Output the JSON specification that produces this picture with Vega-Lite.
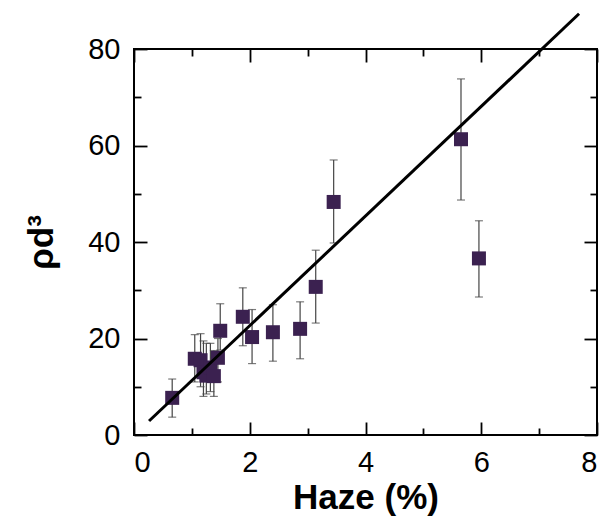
{
  "$schema": "https://vega.github.io/schema/vega-lite/v6.json",
  "width": 463,
  "height": 386,
  "autosize": "none",
  "padding": {"left": 134, "top": 49, "right": 9, "bottom": 89},
  "background": "white",
  "config": {
    "view": {"stroke": "black", "strokeWidth": 2},
    "axis": {"grid": false, "domain": false, "tickColor": "black", "tickWidth": 1.8, "labelFont": "Liberation Sans", "labelFontSize": 29, "labelColor": "black", "titleFont": "Liberation Sans", "titleFontSize": 35, "titleFontWeight": "bold", "titleColor": "black"}
  },
  "datasets": {
    "pts": [
      {"haze": 0.66, "rho": 7.7, "lo": 3.7, "hi": 11.6},
      {"haze": 1.05, "rho": 15.8, "lo": 11.0, "hi": 20.8},
      {"haze": 1.15, "rho": 15.5, "lo": 10.0, "hi": 21.0},
      {"haze": 1.2, "rho": 13.0, "lo": 8.0, "hi": 19.5},
      {"haze": 1.25, "rho": 12.3, "lo": 8.5, "hi": 19.0},
      {"haze": 1.32, "rho": 14.0, "lo": 9.0, "hi": 19.0},
      {"haze": 1.38, "rho": 12.2, "lo": 8.0, "hi": 17.5},
      {"haze": 1.45, "rho": 16.0, "lo": 11.0, "hi": 20.0},
      {"haze": 1.49, "rho": 21.6, "lo": 17.6, "hi": 27.2},
      {"haze": 1.88, "rho": 24.5, "lo": 18.5, "hi": 30.5},
      {"haze": 2.04, "rho": 20.3, "lo": 14.8, "hi": 26.0},
      {"haze": 2.4, "rho": 21.3, "lo": 15.3, "hi": 27.0},
      {"haze": 2.87, "rho": 22.0, "lo": 15.8, "hi": 27.6},
      {"haze": 3.14, "rho": 30.7, "lo": 23.2, "hi": 38.3},
      {"haze": 3.45, "rho": 48.3, "lo": 39.8, "hi": 57.0},
      {"haze": 5.65, "rho": 61.3, "lo": 48.7, "hi": 73.8},
      {"haze": 5.96, "rho": 36.6, "lo": 28.6, "hi": 44.4}
    ],
    "fit": [
      {"haze": 0.26, "rho": 2.9},
      {"haze": 7.69, "rho": 87.3}
    ]
  },
  "layer": [
    {
      "data": {"name": "pts"},
      "mark": {"type": "rule", "color": "#444444", "strokeWidth": 1.2},
      "encoding": {
        "x": {"field": "haze", "type": "quantitative", "scale": {"domain": [0, 8], "nice": false},
              "axis": {"orient": "bottom", "values": [0, 2, 4, 6, 8], "ticks": false, "tickSize": 0, "labelPadding": 13, "title": "Haze (%)", "titlePadding": 3}},
        "y": {"field": "lo", "type": "quantitative", "scale": {"domain": [0, 80], "nice": false},
              "axis": {"orient": "left", "values": [0, 20, 40, 60, 80], "ticks": false, "tickSize": 0, "labelPadding": 14, "title": "ρd³", "titlePadding": 28}},
        "y2": {"field": "hi"}
      }
    },
    {
      "data": {"name": "pts"},
      "mark": {"type": "tick", "orient": "horizontal", "color": "#444444", "size": 8, "thickness": 1.2},
      "encoding": {
        "x": {"field": "haze", "type": "quantitative", "axis": {"orient": "top", "offset": -386, "values": [0, 2, 4, 6, 8], "tickSize": 13, "labels": false, "title": null}},
        "y": {"field": "lo", "type": "quantitative", "axis": {"orient": "right", "offset": -463, "values": [0, 20, 40, 60, 80], "tickSize": 13, "labels": false, "title": null}}
      }
    },
    {
      "data": {"name": "pts"},
      "mark": {"type": "tick", "orient": "horizontal", "color": "#444444", "size": 8, "thickness": 1.2},
      "encoding": {
        "x": {"field": "haze", "type": "quantitative", "axis": {"orient": "bottom", "offset": -386, "values": [0, 2, 4, 6, 8], "tickSize": 13, "labels": false, "title": null}},
        "y": {"field": "hi", "type": "quantitative", "axis": {"orient": "left", "offset": -463, "values": [0, 20, 40, 60, 80], "tickSize": 13, "labels": false, "title": null}}
      }
    },
    {
      "data": {"name": "pts"},
      "mark": {"type": "square", "color": "#3b2150", "opacity": 1, "size": 196},
      "encoding": {
        "x": {"field": "haze", "type": "quantitative", "axis": {"orient": "top", "offset": -386, "values": [1, 3, 5, 7], "tickSize": 7, "labels": false, "title": null}},
        "y": {"field": "rho", "type": "quantitative", "axis": {"orient": "right", "offset": -463, "values": [10, 30, 50, 70], "tickSize": 7, "labels": false, "title": null}}
      }
    },
    {
      "data": {"name": "fit"},
      "mark": {"type": "line", "color": "black", "strokeWidth": 3, "clip": false},
      "encoding": {
        "x": {"field": "haze", "type": "quantitative", "axis": {"orient": "bottom", "offset": -386, "values": [1, 3, 5, 7], "tickSize": 7, "labels": false, "title": null}},
        "y": {"field": "rho", "type": "quantitative", "axis": {"orient": "left", "offset": -463, "values": [10, 30, 50, 70], "tickSize": 7, "labels": false, "title": null}}
      }
    }
  ],
  "resolve": {"axis": {"x": "independent", "y": "independent"}}
}
